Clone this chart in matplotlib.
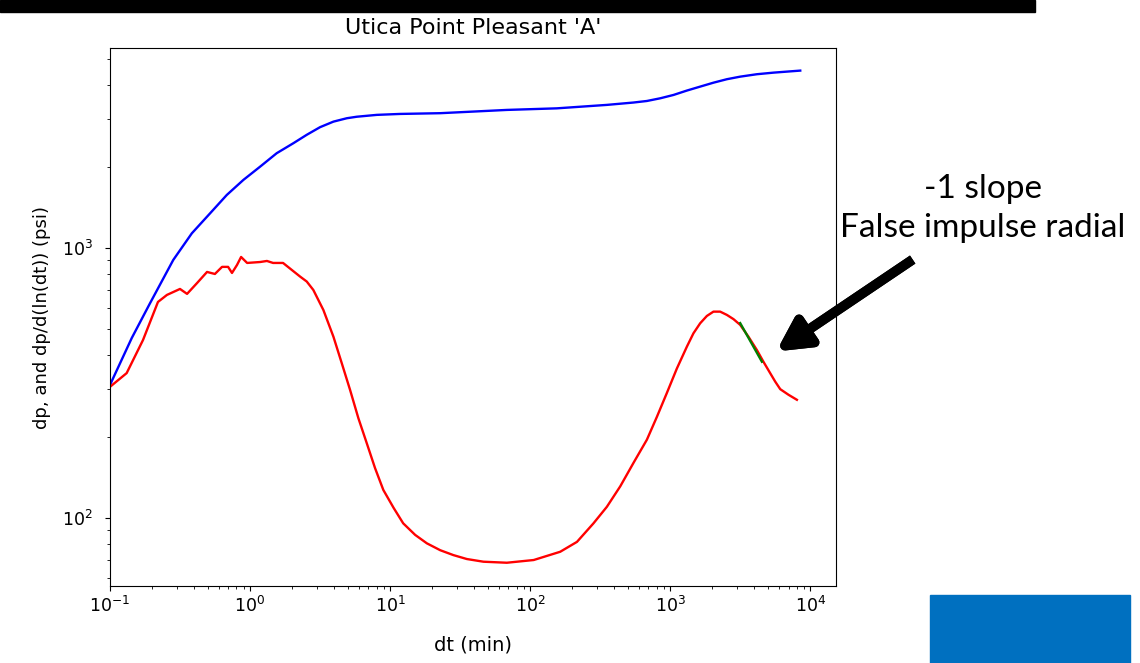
import matplotlib
matplotlib.use('Agg')
import matplotlib.pyplot as plt
from matplotlib.patches import Rectangle

# dp curve (blue)
dt_dp = [0.1, 0.143, 0.193, 0.283, 0.384, 0.518, 0.682, 0.896, 1.18, 1.55,
         2.04, 2.54, 3.16, 3.94, 4.91, 5.78, 8.04, 11.8, 22.8, 39.4, 68.2,
         155, 353, 547, 682, 849, 1057, 1316, 1637, 2037, 2541, 3162, 4159,
         5470, 8490]
dp = [311, 464, 624, 903, 1133, 1343, 1571, 1786, 2000, 2243,
      2443, 2624, 2800, 2936, 3022, 3061, 3110, 3135, 3155, 3199, 3244,
      3288, 3386, 3455, 3501, 3582, 3686, 3826, 3957, 4092, 4215, 4308, 4398,
      4458, 4536]

# derivative curve (red)
dt_der = [0.1, 0.1315, 0.172, 0.220, 0.255, 0.316, 0.355, 0.418, 0.493, 0.561,
          0.631, 0.697, 0.743, 0.807, 0.863, 0.953, 1.18, 1.32, 1.46, 1.72,
          2.28, 2.54, 2.83, 3.34, 3.94, 4.52, 5.18, 5.94, 6.82, 7.81, 8.95,
          10.6, 12.4, 15.1, 18.3, 22.8, 28.3, 35.3, 46.4, 68.2, 106, 164,
          216, 283, 353, 440, 547, 682, 804, 946, 1117, 1316, 1466, 1637,
          1828, 2037, 2275, 2541, 2833, 3162, 3625, 4159, 4634, 5176, 5623,
          6109, 6998, 8035]
der = [306, 344, 456, 631, 670, 705, 676, 741, 815, 801,
       851, 851, 808, 865, 926, 880, 887, 895, 880, 880,
       783, 751, 699, 589, 469, 374, 298, 234, 189, 153, 127,
       109, 95.6, 86.6, 80.6, 76.0, 72.9, 70.5, 68.9, 68.3, 69.9, 75.0,
       81.6, 95.5, 110, 131, 160, 195, 237, 290, 358, 431, 483, 526,
       560, 581, 581, 565, 545, 519, 469, 419, 379, 344, 320,
       300, 286, 274]

# -1 slope fit segment (green)
dt_fit = [3162, 4520]
fit = [527, 379]

fig = plt.figure(figsize=(11.4, 6.63), dpi=100)
ax = fig.add_axes([0.0965, 0.1161, 0.6369, 0.8115])

ax.loglog(dt_dp, dp, color='b', lw=1.7)
ax.loglog(dt_der, der, color='r', lw=1.7)
ax.loglog(dt_fit, fit, color='g', lw=1.7)

ax.set_xlim(0.1, 15300)
ax.set_ylim(56, 5500)
ax.tick_params(labelsize=12.5)
ax.tick_params(axis='y', pad=9)
ax.set_xlabel('dt (min)', fontsize=14, labelpad=14)
ax.set_ylabel('dp, and dp/d(ln(dt)) (psi)', fontsize=13, labelpad=8)
ax.set_title("Utica Point Pleasant 'A'", fontsize=16, pad=10)

# annotation
fig.text(0.862, 0.685, '-1 slope\nFalse impulse radial', ha='center', va='center',
         fontsize=24, family='Lato', linespacing=1.38)
fig.add_artist(plt.annotate('', xy=(774 / 1140, 1 - 353 / 663), xycoords='figure fraction',
                            xytext=(915 / 1140, 1 - 258 / 663), textcoords='figure fraction',
                            arrowprops=dict(arrowstyle='-|>,head_length=1.9,head_width=1.0',
                                            color='black', lw=7, capstyle='butt')))

# slide decorations
fig.add_artist(Rectangle((0, 1 - 12 / 663), 1035 / 1140, 12 / 663,
                         transform=fig.transFigure, color='black'))
fig.add_artist(Rectangle((930 / 1140, 0), 200 / 1140, 68 / 663,
                         transform=fig.transFigure, color='#0070C0'))

fig.savefig('out.png', dpi=100)
